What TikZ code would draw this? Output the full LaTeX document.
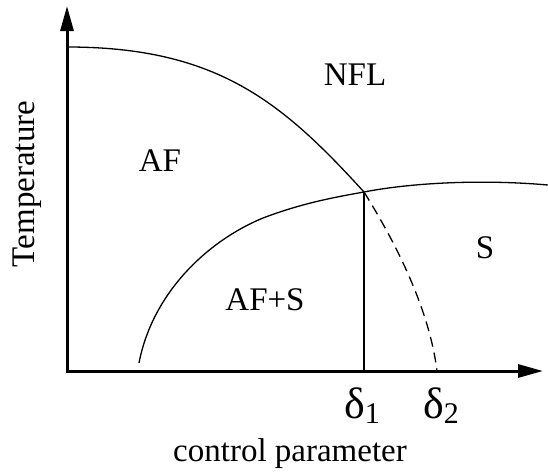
\documentclass[tikz,border=0pt]{standalone}
\usepackage{fontspec}
\setmainfont{Liberation Serif}
\usetikzlibrary{arrows.meta}
\tikzset{
  axis/.style={line width=3pt, {Triangle[length=25pt,width=13pt]}-{Triangle[length=25pt,width=13pt]}},
  phase/.style={line width=1.3pt},
  lbl/.style={font=\fontsize{33}{38}\selectfont, inner sep=0pt},
  dlbl/.style={font=\fontsize{44}{48}\selectfont, inner sep=0pt}
}
\begin{document}
\begin{tikzpicture}[x=1pt,y=-1pt]
\useasboundingbox (0,0) rectangle (548,474);
\coordinate (O) at (67,371);
\coordinate (ytip) at (67,6);
\coordinate (xtip) at (543,371);
\coordinate (afstart) at (67,47);
\coordinate (Q) at (364,192);
\coordinate (d2) at (437,371);
\coordinate (sstart) at (139,363);
\coordinate (kink) at (263,218);
\coordinate (send) at (548,185);
\coordinate (Qbase) at (364,371);
\draw[axis] (ytip) -- (O) -- (xtip);
\draw[phase] (afstart) .. controls (217,47) and (282,102) .. (Q);
\draw[phase, dash pattern=on 10pt off 6pt] (Q) .. controls (394,240) and (429,307) .. (d2);
\draw[phase] (sstart) .. controls (152,295) and (205,242) .. (kink)
  .. controls (300,204) and (330,198) .. (Q)
  .. controls (410,183) and (480,179) .. (send);
\draw[phase] (Q) -- (Qbase);
\node[lbl] (nfl) at (355,75) {NFL};
\node[lbl] (af) at (160,161) {AF};
\node[lbl] (s) at (485,248) {S};
\node[lbl] (afs) at (265,300) {AF+S};
\node[dlbl] (delta1) at (362,406) {δ\raisebox{-5pt}{\fontsize{30}{32}\selectfont 1}};
\node[dlbl] (delta2) at (441,406) {δ\raisebox{-5pt}{\fontsize{30}{32}\selectfont 2}};
\node[lbl] (xlab) at (290,454) {control parameter};
\node[lbl, rotate=90] (ylab) at (27,184) {Temperature};
\end{tikzpicture}
\end{document}
